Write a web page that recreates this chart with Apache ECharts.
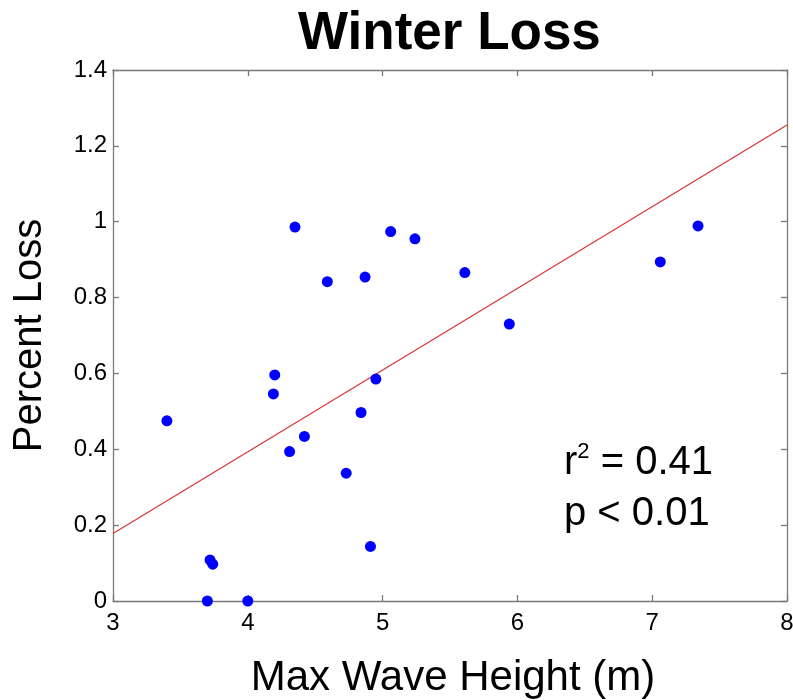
<!DOCTYPE html>
<html>
<head>
<meta charset="utf-8">
<script src="https://cdn.jsdelivr.net/npm/echarts@6/dist/echarts.min.js"></script>
<style>
html,body{margin:0;padding:0;background:#fff;}
#chart{width:793px;height:700px;}
</style>
</head>
<body>
<div id="chart"></div>
<script>
// Data
var waveHeight = [3.40, 3.70, 3.72, 3.74, 4.00, 4.19, 4.20, 4.31, 4.35, 4.42, 4.59, 4.73, 4.84, 4.87, 4.91, 4.95, 5.06, 5.24, 5.61, 5.94, 7.06, 7.34];
var percentLoss = [0.475, 0.0, 0.108, 0.097, 0.0, 0.546, 0.596, 0.394, 0.986, 0.434, 0.842, 0.337, 0.497, 0.854, 0.144, 0.585, 0.974, 0.955, 0.866, 0.730, 0.894, 0.989];
var fitX = [3, 8];
var fitY = [0.178, 1.255];
var xTicks = [3, 4, 5, 6, 7, 8];
var yTicks = [0, 0.2, 0.4, 0.6, 0.8, 1, 1.2, 1.4];

var FONT = "'Liberation Sans', Arial, sans-serif";
var AXIS_COLOR = '#7a7a7a';

var scatterData = waveHeight.map(function (x, i) { return [x, percentLoss[i]]; });
var lineData = fitX.map(function (x, i) { return [x, fitY[i]]; });

var chart = echarts.init(document.getElementById('chart'), null, {renderer: 'canvas'});

var baseAxis = {
  axisLine: {show: true, onZero: false, lineStyle: {color: AXIS_COLOR, width: 1.3}},
  axisTick: {show: true, inside: true, length: 6, lineStyle: {color: AXIS_COLOR, width: 1.3}},
  splitLine: {show: false}
};

chart.setOption({
  backgroundColor: '#ffffff',
  animation: false,
  title: {
    text: 'Winter Loss',
    left: 293,
    top: 3,
    textStyle: {fontFamily: FONT, fontSize: 53, fontWeight: 'bold', color: '#000'}
  },
  grid: {left: 113, right: 6, top: 70, bottom: 99, containLabel: false, outerBoundsMode: 'none'},
  xAxis: [
    Object.assign({}, baseAxis, {
      type: 'value', min: xTicks[0], max: xTicks[xTicks.length - 1], interval: 1,
      position: 'bottom',
      name: 'Max Wave Height (m)', nameLocation: 'middle', nameGap: 56,
      nameTextStyle: {fontFamily: FONT, fontSize: 42, color: '#000', padding: [0, 0, 0, 6]},
      axisLabel: {fontFamily: FONT, fontSize: 24, color: '#000', margin: 10}
    }),
    Object.assign({}, baseAxis, {
      type: 'value', min: xTicks[0], max: xTicks[xTicks.length - 1], interval: 1,
      position: 'top', axisLabel: {show: false}
    })
  ],
  yAxis: [
    Object.assign({}, baseAxis, {
      type: 'value', min: yTicks[0], max: yTicks[yTicks.length - 1], interval: 0.2,
      position: 'left',
      name: 'Percent Loss', nameLocation: 'middle', nameGap: 63,
      nameTextStyle: {fontFamily: FONT, fontSize: 40, color: '#000'},
      axisLabel: {fontFamily: FONT, fontSize: 24, color: '#000', margin: 6}
    }),
    Object.assign({}, baseAxis, {
      type: 'value', min: yTicks[0], max: yTicks[yTicks.length - 1], interval: 0.2,
      position: 'right', axisLabel: {show: false}
    })
  ],
  series: [
    {
      type: 'line',
      data: lineData,
      showSymbol: false,
      symbol: 'none',
      lineStyle: {color: '#dd3333', width: 1.2},
      z: 2
    },
    {
      type: 'scatter',
      data: scatterData,
      symbol: 'circle',
      symbolSize: 11,
      itemStyle: {color: '#0000ff', opacity: 1},
      z: 3
    }
  ],
  graphic: [
    {
      type: 'text',
      left: 564,
      top: 432,
      style: {
        text: '{r|r}{s|2}{r| = 0.41}\n{r|p < 0.01}',
        fontFamily: FONT,
        rich: {
          r: {fontFamily: FONT, fontSize: 40, color: '#000', lineHeight: 51, verticalAlign: 'bottom'},
          s: {fontFamily: FONT, fontSize: 22, color: '#000', lineHeight: 22, verticalAlign: 'top', padding: [9, 0, 0, 0]}
        }
      }
    }
  ]
});
</script>
</body>
</html>
